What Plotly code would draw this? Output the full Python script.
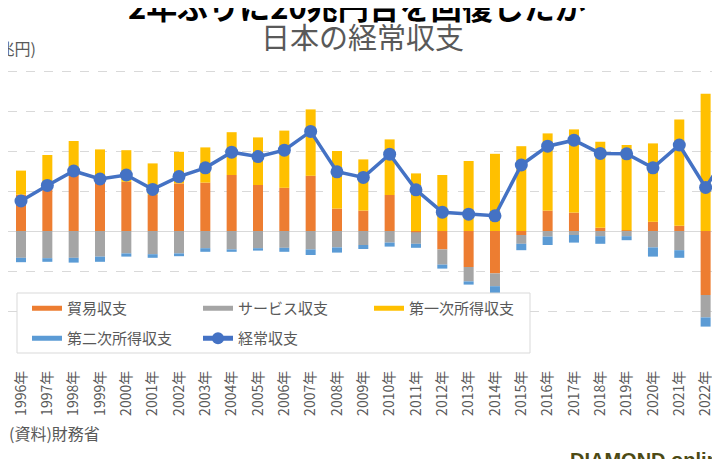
import plotly.graph_objects as go

# =============================================================================
# Data (兆円)
# =============================================================================
years = list(range(1996, 2024))
year_labels = [f"{y}年" for y in years]

trade = [9.1, 12.2, 15.9, 14.0, 12.3, 9.0, 11.9, 12.1, 14.0, 11.5, 10.8, 13.8, 5.6, 5.1,
         9.0, -0.3, -4.6, -9.0, -10.6, -1.0, 5.1, 4.6, 0.8, 0.2, 2.3, 1.3, -16.0, -6.6]
services = [-6.7, -6.8, -6.7, -6.4, -5.6, -5.8, -5.6, -4.3, -4.6, -4.3, -4.2, -4.6, -4.1, -3.5,
            -2.9, -2.9, -3.8, -3.6, -3.2, -2.2, -1.4, -1.0, -1.3, -1.3, -4.1, -4.8, -5.6, -2.9]
primary = [6.0, 6.8, 6.6, 6.4, 7.9, 7.9, 7.9, 8.8, 10.7, 11.9, 14.3, 16.6, 14.4, 12.8,
           13.9, 14.4, 14.0, 17.5, 19.3, 21.2, 19.3, 20.8, 21.5, 21.3, 19.6, 26.6, 34.3, 34.9]
secondary = [-1.1, -0.9, -1.2, -1.3, -0.8, -0.9, -0.7, -0.9, -0.6, -0.6, -1.0, -1.4, -1.3, -1.0,
             -1.0, -1.0, -1.0, -0.8, -1.7, -1.6, -2.1, -1.9, -1.9, -1.0, -2.3, -1.9, -2.3, -4.4]
current = [7.5, 11.4, 15.0, 13.0, 14.0, 10.4, 13.6, 15.8, 19.7, 18.6, 20.2, 24.9, 14.8, 13.4,
           19.2, 10.3, 4.7, 4.2, 3.8, 16.5, 21.2, 22.7, 19.4, 19.3, 15.8, 21.5, 10.9, 21.0]

GRAY_TEXT = "#595959"
FONT = "Noto Sans CJK JP"

# figure geometry (the page adds an 8px body margin)
W, H = 720, 459
M_T, M_B = 43, 116
PLOT_H = H - M_T - M_B


def px(x):   # page pixel -> paper x
    return (x - 8) / W


def py(y):   # page pixel -> paper y
    return (H - M_B - (y - 8)) / PLOT_H


fig = go.Figure()

# stacked bars (relative mode: positives up, negatives down)
bar_series = [
    ("貿易収支", trade, "#ED7D31"),
    ("サービス収支", services, "#A5A5A5"),
    ("第一次所得収支", primary, "#FFC000"),
    ("第二次所得収支", secondary, "#5B9BD5"),
]
for name, vals, color in bar_series:
    fig.add_trace(go.Bar(x=years, y=vals, name=name, marker_color=color,
                         marker_line_width=0, width=0.38, showlegend=False))

# legend proxies so the swatches are wide bars like the original
legend_rows = ["legend", "legend", "legend", "legend2"]
for (name, vals, color), lg in zip(bar_series, legend_rows):
    fig.add_trace(go.Scatter(x=[None], y=[None], mode="lines", name=name, legend=lg,
                             line=dict(color=color, width=10)))

fig.add_trace(go.Scatter(
    x=years, y=current, name="経常収支", mode="lines+markers", legend="legend2",
    line=dict(color="#4472C4", width=3.5),
    marker=dict(color="#4472C4", size=13),
))

legend_style = dict(
    orientation="h", xanchor="left", yanchor="top",
    entrywidth=126, entrywidthmode="pixels",
    bgcolor="rgba(0,0,0,0)", borderwidth=0,
    font=dict(size=15, color=GRAY_TEXT, family=FONT),
    itemsizing="constant", traceorder="normal",
)

fig.update_layout(
    width=W, height=H,
    margin=dict(l=0, r=0, t=M_T, b=M_B),
    barmode="relative",
    plot_bgcolor="white", paper_bgcolor="white",
    font=dict(family=FONT, color=GRAY_TEXT),
    legend=dict(x=px(27), y=py(292), **legend_style),
    legend2=dict(x=px(27), y=py(322), **legend_style),
    xaxis=dict(
        range=[1995.506, 2022.85],
        tickmode="array", tickvals=years, ticktext=year_labels,
        tickangle=-90, tickfont=dict(size=14, color=GRAY_TEXT),
        showgrid=False, zeroline=False, showline=False, ticks="",
        ticklabelstandoff=16,
    ),
    yaxis=dict(
        range=[-30, 45], dtick=10, tick0=0,
        showticklabels=False, showgrid=True, gridcolor="#D9D9D9", griddash="dash",
        zeroline=True, zerolinecolor="#D9D9D9", zerolinewidth=1,
    ),
)

# legend frame (drawn over the plot, under the legend text)
fig.add_shape(type="rect", xref="paper", yref="paper", layer="above",
              x0=px(17), x1=px(530), y0=py(353), y1=py(293),
              fillcolor="white", line=dict(color="#D9D9D9", width=1))

fig.add_annotation(text="<b>2年ぶりに20兆円台を回復したが</b>", xref="paper", yref="paper",
                   x=px(357), y=py(5), xanchor="center", yanchor="middle", showarrow=False,
                   font=dict(size=31, color="black", family=FONT))
fig.add_annotation(text="日本の経常収支", xref="paper", yref="paper",
                   x=px(362), y=py(36), xanchor="center", yanchor="middle", showarrow=False,
                   font=dict(size=29, color=GRAY_TEXT, family=FONT))
fig.add_annotation(text="(兆円)", xref="paper", yref="paper",
                   x=px(38), y=py(48), xanchor="right", yanchor="middle", showarrow=False,
                   font=dict(size=16, color=GRAY_TEXT, family=FONT))
fig.add_annotation(text="(資料)財務省", xref="paper", yref="paper",
                   x=px(7), y=py(433), xanchor="left", yanchor="middle", showarrow=False,
                   font=dict(size=16, color=GRAY_TEXT, family=FONT))
fig.add_annotation(text="<b>DIAMOND</b> <b>online</b>", xref="paper", yref="paper",
                   x=px(568), y=py(447), xanchor="left", yanchor="top", showarrow=False,
                   font=dict(size=20, color="#4D4A14", family="Liberation Sans"))

fig.write_html("out.html")
